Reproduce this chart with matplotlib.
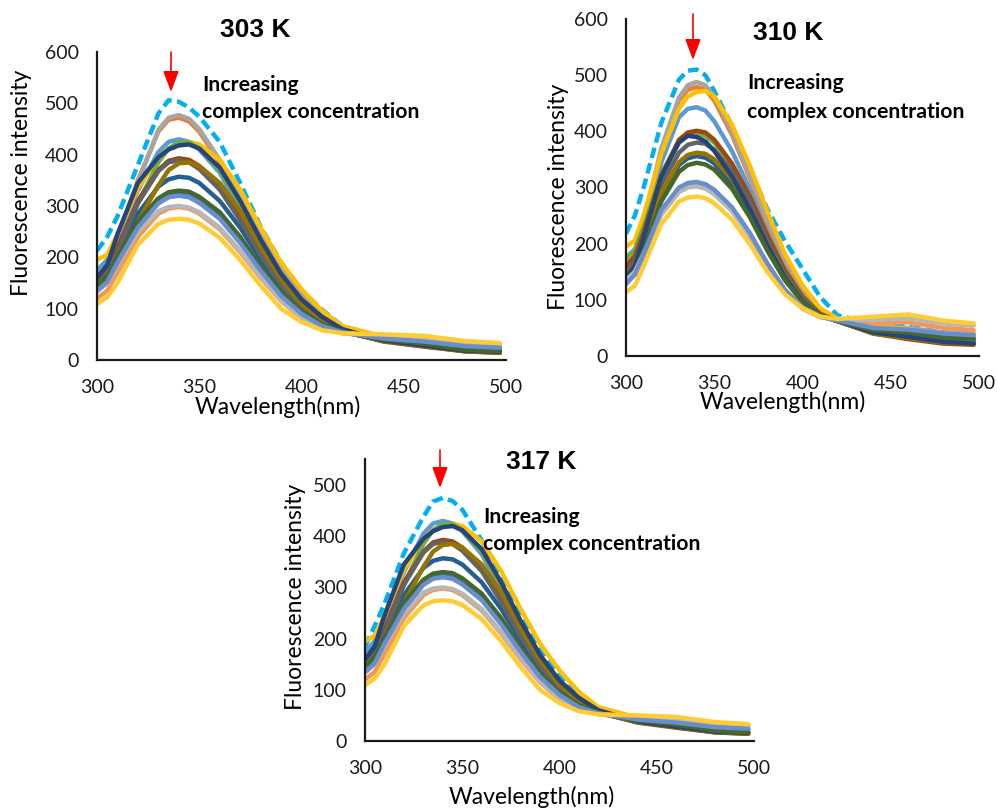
import matplotlib
matplotlib.use("Agg")
import matplotlib.pyplot as plt

# ---------------- data ----------------
wavelength = [300, 305, 310, 320, 330, 335, 340, 345, 350, 360, 370, 380, 390, 400, 410, 420, 440, 460, 480, 497]
x_ticks = [300, 350, 400, 450, 500]
y_ticks_top = [0, 100, 200, 300, 400, 500, 600]
y_ticks_bottom = [0, 100, 200, 300, 400, 500]
titles = ["303 K", "310 K", "317 K"]
note_line1 = "Increasing"
note_line2 = "complex concentration"
x_label = "Wavelength(nm)"
y_label = "Fluorescence intensity"

# free protein (dashed) spectra
free_303 = [213, 240, 280, 380, 480, 506, 503, 492, 474, 425, 345, 260, 190, 135, 98, 66, 44, 38, 30, 26]
free_310 = [218, 250, 300, 415, 492, 508, 510, 500, 472, 410, 335, 262, 205, 155, 105, 72, 58, 52, 42, 38]
free_317 = [185, 225, 268, 367, 438, 468, 475, 469, 452, 392, 327, 244, 175, 125, 88, 60, 42, 36, 28, 25]

# 303 K / 317 K titration spectra
s303_blue = [175, 195, 240, 330, 405, 425, 430, 425, 410, 365, 295, 222, 162, 116, 82, 62, 44, 38, 28, 25]
s303_orange = [165, 185, 235, 350, 445, 468, 472, 465, 445, 385, 310, 240, 180, 130, 92, 64, 42, 36, 26, 22]
s303_gray = [160, 182, 232, 345, 448, 472, 477, 470, 450, 390, 315, 242, 182, 132, 93, 64, 44, 40, 30, 27]
s303_gold = [195, 205, 245, 335, 395, 412, 420, 425, 420, 390, 332, 258, 190, 138, 96, 66, 46, 42, 32, 28]
s303_blue2 = [140, 160, 200, 265, 310, 322, 325, 322, 312, 280, 232, 178, 128, 92, 68, 54, 40, 34, 25, 22]
s303_green = [150, 170, 210, 305, 385, 412, 424, 424, 412, 370, 305, 232, 166, 118, 84, 60, 38, 28, 17, 14]
s303_darkblue = [145, 165, 205, 285, 338, 352, 357, 355, 345, 310, 258, 195, 140, 100, 72, 55, 38, 30, 20, 18]
s303_brown = [160, 178, 218, 310, 370, 388, 393, 390, 378, 340, 280, 210, 150, 106, 76, 56, 36, 26, 17, 14]
s303_darkgray = [150, 168, 210, 305, 368, 385, 389, 385, 372, 332, 272, 205, 147, 104, 75, 56, 37, 28, 18, 16]
s303_olive = [140, 158, 190, 270, 340, 370, 383, 385, 378, 345, 290, 220, 158, 110, 78, 57, 37, 27, 17, 15]
s303_navy = [160, 185, 245, 345, 395, 410, 418, 420, 412, 375, 310, 235, 168, 118, 84, 60, 38, 28, 18, 16]
s303_darkgreen = [145, 163, 200, 270, 315, 327, 330, 328, 318, 288, 240, 182, 132, 95, 70, 55, 40, 32, 20, 17]
s303_lightorange = [120, 135, 170, 240, 285, 295, 298, 295, 285, 255, 210, 160, 115, 82, 62, 52, 46, 42, 34, 31]
s303_lightgray = [133, 150, 185, 250, 290, 298, 300, 297, 288, 258, 213, 162, 117, 84, 63, 53, 46, 42, 33, 30]
s303_lightblue2 = [135, 152, 190, 258, 305, 317, 320, 317, 306, 275, 228, 174, 125, 90, 66, 54, 42, 36, 27, 24]
s303_lightgold = [109, 122, 150, 225, 265, 273, 275, 273, 266, 238, 195, 145, 100, 74, 58, 52, 50, 47, 37, 33]

# 310 K titration spectra
s310_gray = [165, 185, 240, 370, 460, 482, 488, 482, 462, 400, 322, 242, 172, 122, 84, 66, 52, 50, 42, 40]
s310_orange = [160, 180, 235, 365, 455, 474, 479, 474, 455, 394, 318, 238, 168, 118, 82, 64, 50, 48, 40, 38]
s310_gold = [195, 205, 250, 360, 440, 462, 470, 472, 462, 412, 340, 258, 182, 126, 85, 66, 52, 48, 38, 35]
s310_blue = [150, 170, 225, 345, 425, 440, 443, 437, 418, 365, 298, 225, 160, 112, 78, 63, 46, 40, 32, 29]
s310_brown = [160, 178, 220, 320, 385, 398, 401, 398, 385, 343, 285, 215, 152, 105, 75, 62, 40, 30, 22, 20]
s310_navy = [140, 160, 210, 320, 380, 392, 390, 382, 365, 320, 262, 198, 140, 98, 72, 62, 42, 34, 25, 22]
s310_green = [175, 190, 230, 325, 382, 393, 395, 392, 380, 340, 283, 215, 152, 106, 75, 62, 42, 34, 24, 21]
s310_darkgray = [150, 168, 210, 305, 362, 376, 380, 378, 367, 330, 275, 208, 148, 103, 74, 62, 42, 36, 26, 24]
s310_olive = [145, 160, 200, 290, 345, 358, 362, 360, 350, 315, 262, 200, 142, 100, 73, 62, 40, 32, 24, 22]
s310_darkblue = [140, 156, 195, 285, 340, 352, 356, 353, 343, 307, 255, 193, 138, 98, 72, 62, 44, 40, 31, 28]
s310_darkgreen = [135, 150, 188, 275, 328, 340, 344, 341, 332, 298, 248, 188, 135, 96, 72, 62, 46, 42, 34, 32]
s310_blue2 = [128, 145, 180, 260, 300, 308, 310, 306, 296, 265, 220, 165, 118, 86, 70, 63, 50, 47, 40, 37]
s310_lightorange = [130, 145, 178, 252, 292, 301, 304, 301, 292, 262, 218, 165, 118, 86, 70, 64, 58, 60, 50, 46]
s310_lightgray = [135, 150, 182, 252, 292, 300, 302, 298, 288, 258, 213, 160, 115, 84, 69, 65, 64, 67, 58, 54]
s310_lightgold = [114, 125, 160, 235, 275, 282, 284, 281, 272, 243, 200, 150, 110, 85, 70, 66, 70, 74, 63, 58]

# ---------------- styles ----------------
C = {
    "blue": "#5B9BD5", "orange": "#ED7D31", "gray": "#A5A5A5", "gold": "#FFC000",
    "blue2": "#4472C4", "green": "#70AD47", "darkblue": "#255E91", "brown": "#9E480E",
    "darkgray": "#636363", "olive": "#997300", "navy": "#264478", "darkgreen": "#43682B",
    "lightorange": "#F1975A", "lightgray": "#B7B7B7", "lightblue2": "#698ED0",
    "lightgold": "#FFCD33", "dash": "#00B0F0",
}

series_common = [
    (s303_blue, C["blue"]), (s303_gold, C["gold"]), (s303_blue2, C["blue2"]),
    (s303_green, C["green"]), (s303_darkblue, C["darkblue"]), (s303_brown, C["brown"]),
    (s303_darkgray, C["darkgray"]), (s303_olive, C["olive"]), (s303_navy, C["navy"]),
    (s303_darkgreen, C["darkgreen"]), (s303_lightorange, C["lightorange"]),
    (s303_lightgray, C["lightgray"]), (s303_lightblue2, C["lightblue2"]),
    (s303_lightgold, C["lightgold"]),
]
series_303 = [(s303_orange, C["orange"]), (s303_gray, C["gray"])] + series_common
series_317 = series_common
series_310 = [
    (s310_blue, C["blue"]), (s310_orange, C["orange"]), (s310_gray, C["gray"]),
    (s310_gold, C["gold"]), (s310_green, C["green"]),
    (s310_darkblue, C["darkblue"]), (s310_brown, C["brown"]), (s310_darkgray, C["darkgray"]),
    (s310_olive, C["olive"]), (s310_navy, C["navy"]), (s310_darkgreen, C["darkgreen"]),
    (s310_lightorange, C["lightorange"]), (s310_lightgray, C["lightgray"]),
    (s310_blue2, C["lightblue2"]), (s310_lightgold, C["lightgold"]),
]

W, H = 997, 810
fig = plt.figure(figsize=(W / 100, H / 100), dpi=100)
fig.patch.set_facecolor("white")

FONT = ["Lato", "DejaVu Sans"]
TITLE_FONT = ["Liberation Sans", "DejaVu Sans"]


def px_rect(left, top, right, bottom):
    return [left / W, 1 - bottom / H, (right - left) / W, (bottom - top) / H]


def fxy(x, y):
    return x / W, 1 - y / H


panels = [
    dict(rect=px_rect(97, 52, 506, 360), ylim=(0, 600), yt=y_ticks_top, free=free_303,
         series=series_303, title=titles[0], tpos=(255, 30), note=(202, 85, 112),
         arrow=(171, 52, 92), xl=(278, 407), yl=(22, 183)),
    dict(rect=px_rect(626, 19, 979, 356), ylim=(0, 600), yt=y_ticks_top, free=free_310,
         series=series_310, title=titles[1], tpos=(788, 33), note=(747, 83, 112),
         arrow=(693, 14, 60), xl=(783, 402), yl=(558, 197)),
    dict(rect=px_rect(365, 459, 754, 741), ylim=(0, 551), yt=y_ticks_bottom, free=free_317,
         series=series_317, title=titles[2], tpos=(541, 462), note=(483, 517, 544),
         arrow=(440, 450, 488), xl=(532, 797), yl=(295, 597)),
]

for p in panels:
    ax = fig.add_axes(p["rect"])
    ax.set_xlim(300, 500)
    ax.set_ylim(*p["ylim"])
    ax.set_xticks(x_ticks)
    ax.set_yticks(p["yt"])
    for s in ["top", "right"]:
        ax.spines[s].set_visible(False)
    for s in ["left", "bottom"]:
        ax.spines[s].set_color("#1a1a1a")
        ax.spines[s].set_linewidth(1.6)
    ax.tick_params(length=0, labelsize=14, colors="#1a1a1a")
    ax.tick_params(axis="y", pad=13)
    ax.tick_params(axis="x", pad=14)
    for lab in ax.get_xticklabels() + ax.get_yticklabels():
        lab.set_family(FONT)
    ax.patch.set_alpha(0)

    ln, = ax.plot(wavelength, p["free"], color=C["dash"], lw=3.2, zorder=1,
                  solid_capstyle="butt", dash_capstyle="butt")
    ln.set_dashes((2.4, 1.2))
    for vals, col in p["series"]:
        ax.plot(wavelength, vals, color=col, lw=3.2, zorder=2,
                solid_joinstyle="round", solid_capstyle="round")

    tx, ty = fxy(*p["tpos"])
    fig.text(tx, ty, p["title"], ha="center", va="center", fontsize=19,
             fontweight="bold", family=TITLE_FONT)
    nx, ny1, ny2 = p["note"]
    fig.text(*fxy(nx, ny1), note_line1, ha="left", va="center", fontsize=15.3,
             fontweight="bold", family=FONT)
    fig.text(*fxy(nx, ny2), note_line2, ha="left", va="center", fontsize=15.3,
             fontweight="bold", family=FONT)
    axx, ay0, ay1 = p["arrow"]
    fig.add_artist(matplotlib.patches.FancyArrowPatch(
        fxy(axx, ay0), fxy(axx, ay1), transform=fig.transFigure,
        arrowstyle="-|>,head_length=0.8,head_width=0.3", mutation_scale=16,
        color="#FF0000", lw=1.2, shrinkA=0, shrinkB=0))
    fig.text(*fxy(*p["xl"]), x_label, ha="center", va="center", fontsize=16.5, family=FONT)
    fig.text(*fxy(*p["yl"]), y_label, ha="center", va="center", fontsize=16.5,
             rotation=90, family=FONT)

fig.savefig("out.png", dpi=100, facecolor="white")
